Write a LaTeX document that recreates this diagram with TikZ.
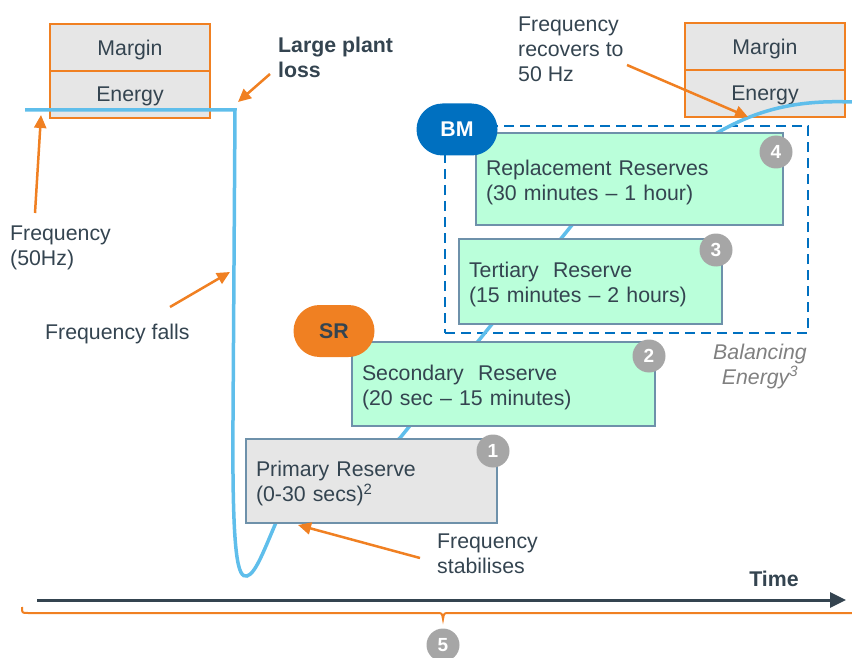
\documentclass[tikz,border=0pt]{standalone}
\usepackage{fontspec}
\setmainfont{Liberation Sans}
\usetikzlibrary{arrows.meta}

\definecolor{ngorange}{RGB}{240,128,34}
\definecolor{ngblue}{RGB}{0,112,192}
\definecolor{freqblue}{RGB}{95,190,235}
\definecolor{slate}{RGB}{52,68,80}
\definecolor{mint}{RGB}{186,255,218}
\definecolor{boxgrey}{RGB}{230,230,230}
\definecolor{edgeblue}{RGB}{110,145,170}
\definecolor{badgegrey}{RGB}{166,166,166}

\newcommand{\diagfont}{\fontsize{21.3}{25}\selectfont}

\begin{document}
\begin{tikzpicture}[x=1pt, y=-1pt,
		every node/.style={font=\diagfont, text=slate},
		lbl/.style={anchor=west, align=left, inner sep=0pt},
		mbox/.style={draw=ngorange, line width=2.5pt, fill=boxgrey, minimum width=160pt, minimum height=47pt, inner sep=0pt, text depth=0pt},
		rbox/.style={draw=edgeblue, line width=2pt, fill=mint, align=left, inner sep=0pt, execute at begin node=\rule{0pt}{21.5pt}},
		pill/.style={rounded corners=26pt, minimum width=81pt, minimum height=52pt, inner sep=0pt, font=\diagfont\bfseries},
		badge/.style={circle, fill=badgegrey, minimum size=33pt, inner sep=0pt, text=white, font=\fontsize{19}{20}\selectfont\bfseries},
		callout/.style={ngorange, line width=2.5pt, -{Triangle[length=13pt,width=12pt]}},
		freq/.style={freqblue, line width=3.5pt}]
			\useasboundingbox (0,0) rectangle (852,658);
			
			% margin / energy stacks
			\node[mbox] (marginL) at (130,47.5) {Margin};
			\node[mbox] (energyL) at (130,94.5) {Energy};
			\node[mbox] (marginR) at (765,46.5) {Margin};
			\node[mbox] (energyR) at (765,93.5) {Energy};
			
			% balancing energy frame
			\node[draw=ngblue, line width=2.5pt, dash pattern=on 10pt off 6pt, minimum width=363pt, minimum height=207pt, inner sep=0pt] (balframe) at (626.5,229.5) {};
			\node[align=center, inner sep=0pt, text=gray, font=\diagfont\itshape] (balancing) at (760,366) {Balancing\\Energy\textsuperscript{3}};
			
			% frequency trace
			\draw[freq] (25,110) -- (235,110) -- (233,420)
				.. controls (232,560) and (238,578) .. (247,576)
				.. controls (256,574) and (266,545) .. (278,518)
				.. controls (300,470) and (350,480) .. (400,438) -- (572,225)
				.. controls (640,170) and (690,150) .. (717,133)
				.. controls (760,108) and (800,100) .. (852,102);
			
			% reserves
			\node[rbox, fill=boxgrey, minimum width=251pt, minimum height=84pt, text width=231pt] (primary) at (371.5,480.5) {Primary Reserve\\(0-30 secs)\textsuperscript{2}};
			\node[rbox, minimum width=303pt, minimum height=84pt, text width=283pt] (secondary) at (503.5,384) {Secondary~~Reserve\\(20 sec \textendash{} 15 minutes)};
			\node[rbox, minimum width=263pt, minimum height=85pt, text width=243pt] (tertiary) at (590.5,281.5) {Tertiary~~Reserve\\(15 minutes \textendash{} 2 hours)};
			\node[rbox, minimum width=307pt, minimum height=92pt, text width=287pt] (replacement) at (629.5,179) {Replacement Reserves\\(30 minutes \textendash{} 1 hour)};
			
			\node[pill, fill=ngorange] (sr) at (334,331) {SR};
			\node[pill, fill=ngblue, text=white] (bm) at (457,129.5) {BM};
			
			\node[badge] (b1) at (493,451) {1};
			\node[badge] (b2) at (649,356) {2};
			\node[badge] (b3) at (716,250) {3};
			\node[badge] (b4) at (776,152) {4};
			\node[badge] (b5) at (443,645) {5};
			
			% labels
			\node[lbl] (freqlbl) at (10,247.5) {Frequency\\(50Hz)};
			\node[lbl, font=\diagfont\bfseries] (loss) at (278,57) {Large plant\\loss};
			\node[lbl] (falls) at (45,334) {Frequency falls};
			\node[lbl] (recovers) at (518,49) {Frequency\\recovers to\\50 Hz};
			\node[lbl] (stab) at (437,554) {Frequency\\stabilises};
			\node[font=\diagfont\bfseries, inner sep=0pt] (time) at (774,579) {Time};
			
			% callouts
			\coordinate (lossTail) at (270,74);
			\coordinate (lossTip) at (238,102);
			\coordinate (nomTail) at (35,213);
			\coordinate (nomTip) at (41,115);
			\coordinate (fallTail) at (170,307);
			\coordinate (fallTip) at (230,272);
			\coordinate (recTail) at (627,65);
			\coordinate (recTip) at (748,117);
			\coordinate (stabTail) at (420,558);
			\coordinate (stabTip) at (298,525);
			\draw[callout] (lossTail) -- (lossTip);
			\draw[callout] (nomTail) -- (nomTip);
			\draw[callout] (fallTail) -- (fallTip);
			\draw[callout] (recTail) -- (recTip);
			\draw[callout] (stabTail) -- (stabTip);
			
			% time axis and brace
			\coordinate (t0) at (37,600);
			\coordinate (t1) at (846,600);
			\draw[slate, line width=3pt, -{Triangle[length=16pt,width=15pt]}] (t0) -- (t1);
			\draw[ngorange, line width=2pt] (22,607) .. controls (22,613) .. (28,613) -- (437,613)
				.. controls (442,613) .. (443,619) .. controls (444,613) .. (449,613) -- (860,613);
		\end{tikzpicture}
\end{document}
